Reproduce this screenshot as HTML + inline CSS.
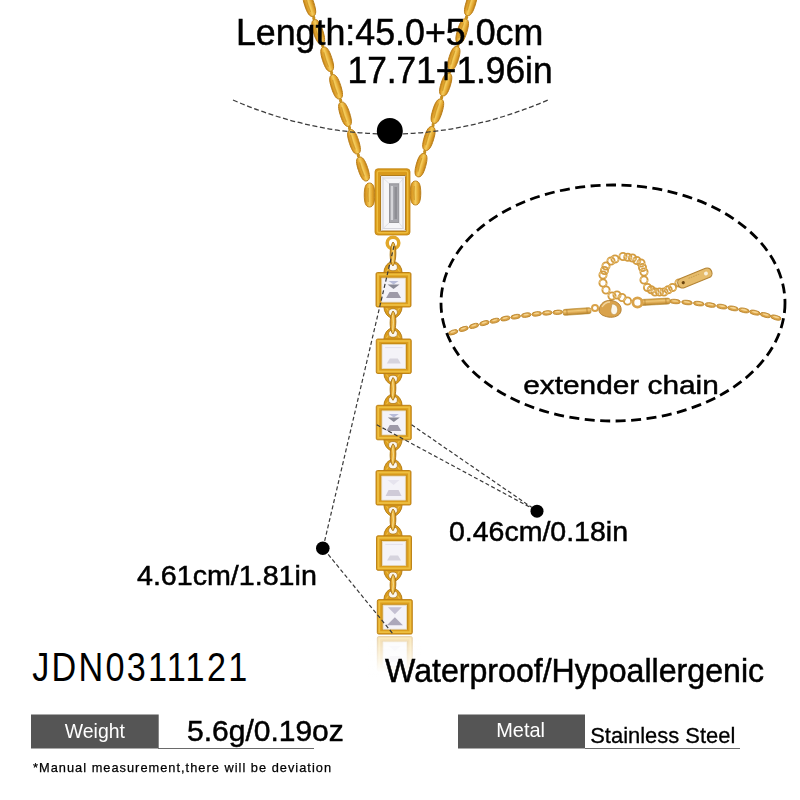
<!DOCTYPE html>
<html><head><meta charset="utf-8">
<style>
html,body{margin:0;padding:0;background:#fff;}
body{width:800px;height:800px;overflow:hidden;position:relative;}
svg{position:absolute;left:0;top:0;}
text{font-family:"Liberation Sans",sans-serif;}
.b{stroke:#000;stroke-width:0.5px;}
</style></head><body>
<svg width="800" height="800" viewBox="0 0 800 800">
<rect width="800" height="800" fill="#fff"/>
<g id="necklace"><defs>
<linearGradient id="gb" x1="0" y1="0" x2="1" y2="0">
<stop offset="0" stop-color="#c4841a"/><stop offset="0.25" stop-color="#e3a52e"/><stop offset="0.5" stop-color="#f4cc5c"/><stop offset="0.78" stop-color="#e0a22c"/><stop offset="1" stop-color="#bc7e16"/>
</linearGradient>
<linearGradient id="gs" x1="0" y1="0" x2="0" y2="1">
<stop offset="0" stop-color="#c89030"/><stop offset="0.35" stop-color="#f0c878"/><stop offset="0.65" stop-color="#dca850"/><stop offset="1" stop-color="#b07e28"/>
</linearGradient>
<linearGradient id="gf" x1="0" y1="0" x2="1" y2="1">
<stop offset="0" stop-color="#f4c550"/><stop offset="0.5" stop-color="#e6ac2c"/><stop offset="1" stop-color="#d0941e"/>
</linearGradient>
<linearGradient id="fade" x1="0" y1="0" x2="0" y2="1">
<stop offset="0" stop-color="#fff" stop-opacity="0.05"/><stop offset="0.75" stop-color="#fff" stop-opacity="0.95"/><stop offset="1" stop-color="#fff" stop-opacity="1"/>
</linearGradient>
<filter id="soft" x="-5%" y="-5%" width="110%" height="110%"><feGaussianBlur stdDeviation="0.4"/></filter>
</defs>
<g filter="url(#soft)"><g transform="translate(309.3,4.2) rotate(-18.0)"><path d="M0,-12.707946830809 C3.56,-12.71 4.75,-7.88 4.75,0 C4.75,7.88 3.56,12.71 0,12.707946830809 C-3.56,12.71 -4.75,7.88 -4.75,0 C-4.75,-7.88 -3.56,-12.71 0,-12.707946830809 Z" fill="url(#gb)" stroke="#b87c16" stroke-width="0.9"/><path d="M-1.2,-7.7 Q-2,0 -1.2,7.7" stroke="#c08a20" stroke-width="1.1" fill="none" opacity="0.6"/></g>
<g transform="translate(318.2,31.8) rotate(-18.0)"><path d="M0,-12.707946830809 C3.56,-12.71 4.75,-7.88 4.75,0 C4.75,7.88 3.56,12.71 0,12.707946830809 C-3.56,12.71 -4.75,7.88 -4.75,0 C-4.75,-7.88 -3.56,-12.71 0,-12.707946830809 Z" fill="url(#gb)" stroke="#b87c16" stroke-width="0.9"/><path d="M-1.2,-7.7 Q-2,0 -1.2,7.7" stroke="#c08a20" stroke-width="1.1" fill="none" opacity="0.6"/></g>
<g transform="translate(327.2,59.2) rotate(-18.0)"><path d="M0,-12.707946830809 C3.56,-12.71 4.75,-7.88 4.75,0 C4.75,7.88 3.56,12.71 0,12.707946830809 C-3.56,12.71 -4.75,7.88 -4.75,0 C-4.75,-7.88 -3.56,-12.71 0,-12.707946830809 Z" fill="url(#gb)" stroke="#b87c16" stroke-width="0.9"/><path d="M-1.2,-7.7 Q-2,0 -1.2,7.7" stroke="#c08a20" stroke-width="1.1" fill="none" opacity="0.6"/></g>
<g transform="translate(336.1,86.8) rotate(-18.0)"><path d="M0,-12.707946830809 C3.56,-12.71 4.75,-7.88 4.75,0 C4.75,7.88 3.56,12.71 0,12.707946830809 C-3.56,12.71 -4.75,7.88 -4.75,0 C-4.75,-7.88 -3.56,-12.71 0,-12.707946830809 Z" fill="url(#gb)" stroke="#b87c16" stroke-width="0.9"/><path d="M-1.2,-7.7 Q-2,0 -1.2,7.7" stroke="#c08a20" stroke-width="1.1" fill="none" opacity="0.6"/></g>
<g transform="translate(345.0,114.2) rotate(-18.0)"><path d="M0,-12.707946830809 C3.56,-12.71 4.75,-7.88 4.75,0 C4.75,7.88 3.56,12.71 0,12.707946830809 C-3.56,12.71 -4.75,7.88 -4.75,0 C-4.75,-7.88 -3.56,-12.71 0,-12.707946830809 Z" fill="url(#gb)" stroke="#b87c16" stroke-width="0.9"/><path d="M-1.2,-7.7 Q-2,0 -1.2,7.7" stroke="#c08a20" stroke-width="1.1" fill="none" opacity="0.6"/></g>
<g transform="translate(354.0,141.8) rotate(-18.0)"><path d="M0,-12.707946830809 C3.56,-12.71 4.75,-7.88 4.75,0 C4.75,7.88 3.56,12.71 0,12.707946830809 C-3.56,12.71 -4.75,7.88 -4.75,0 C-4.75,-7.88 -3.56,-12.71 0,-12.707946830809 Z" fill="url(#gb)" stroke="#b87c16" stroke-width="0.9"/><path d="M-1.2,-7.7 Q-2,0 -1.2,7.7" stroke="#c08a20" stroke-width="1.1" fill="none" opacity="0.6"/></g>
<g transform="translate(363.0,169.0) rotate(-18.7)"><path d="M0,-12.506151358711794 C3.56,-12.51 4.75,-7.75 4.75,0 C4.75,7.75 3.56,12.51 0,12.506151358711794 C-3.56,12.51 -4.75,7.75 -4.75,0 C-4.75,-7.75 -3.56,-12.51 0,-12.506151358711794 Z" fill="url(#gb)" stroke="#b87c16" stroke-width="0.9"/><path d="M-1.2,-7.5 Q-2,0 -1.2,7.5" stroke="#c08a20" stroke-width="1.1" fill="none" opacity="0.6"/></g>
<ellipse cx="313.8" cy="18.0" rx="1.6" ry="2.2" fill="#c8901e"/>
<ellipse cx="322.7" cy="45.5" rx="1.6" ry="2.2" fill="#c8901e"/>
<ellipse cx="331.6" cy="73.0" rx="1.6" ry="2.2" fill="#c8901e"/>
<ellipse cx="340.6" cy="100.5" rx="1.6" ry="2.2" fill="#c8901e"/>
<ellipse cx="349.5" cy="128.0" rx="1.6" ry="2.2" fill="#c8901e"/>
<ellipse cx="358.4" cy="155.5" rx="1.6" ry="2.2" fill="#c8901e"/>
<g transform="translate(470.7,3.6) rotate(17.2)"><path d="M0,-12.514665753620026 C3.56,-12.51 4.75,-7.76 4.75,0 C4.75,7.76 3.56,12.51 0,12.514665753620026 C-3.56,12.51 -4.75,7.76 -4.75,0 C-4.75,-7.76 -3.56,-12.51 0,-12.514665753620026 Z" fill="url(#gb)" stroke="#b87c16" stroke-width="0.9"/><path d="M-1.2,-7.5 Q-2,0 -1.2,7.5" stroke="#c08a20" stroke-width="1.1" fill="none" opacity="0.6"/></g>
<g transform="translate(462.2,31.1) rotate(17.2)"><path d="M0,-12.776402739924984 C3.56,-12.78 4.75,-7.92 4.75,0 C4.75,7.92 3.56,12.78 0,12.776402739924984 C-3.56,12.78 -4.75,7.92 -4.75,0 C-4.75,-7.92 -3.56,-12.78 0,-12.776402739924984 Z" fill="url(#gb)" stroke="#b87c16" stroke-width="0.9"/><path d="M-1.2,-7.8 Q-2,0 -1.2,7.8" stroke="#c08a20" stroke-width="1.1" fill="none" opacity="0.6"/></g>
<g transform="translate(453.8,58.2) rotate(17.2)"><path d="M0,-12.12206027416259 C3.56,-12.12 4.75,-7.52 4.75,0 C4.75,7.52 3.56,12.12 0,12.12206027416259 C-3.56,12.12 -4.75,7.52 -4.75,0 C-4.75,-7.52 -3.56,-12.12 0,-12.12206027416259 Z" fill="url(#gb)" stroke="#b87c16" stroke-width="0.9"/><path d="M-1.2,-7.1 Q-2,0 -1.2,7.1" stroke="#c08a20" stroke-width="1.1" fill="none" opacity="0.6"/></g>
<g transform="translate(445.7,84.5) rotate(17.2)"><path d="M0,-11.860323287857641 C3.56,-11.86 4.75,-7.35 4.75,0 C4.75,7.35 3.56,11.86 0,11.860323287857641 C-3.56,11.86 -4.75,7.35 -4.75,0 C-4.75,-7.35 -3.56,-11.86 0,-11.860323287857641 Z" fill="url(#gb)" stroke="#b87c16" stroke-width="0.9"/><path d="M-1.2,-6.9 Q-2,0 -1.2,6.9" stroke="#c08a20" stroke-width="1.1" fill="none" opacity="0.6"/></g>
<g transform="translate(437.4,111.2) rotate(17.2)"><path d="M0,-12.6455342467725 C3.56,-12.65 4.75,-7.84 4.75,0 C4.75,7.84 3.56,12.65 0,12.6455342467725 C-3.56,12.65 -4.75,7.84 -4.75,0 C-4.75,-7.84 -3.56,-12.65 0,-12.6455342467725 Z" fill="url(#gb)" stroke="#b87c16" stroke-width="0.9"/><path d="M-1.2,-7.6 Q-2,0 -1.2,7.6" stroke="#c08a20" stroke-width="1.1" fill="none" opacity="0.6"/></g>
<g transform="translate(428.9,138.5) rotate(17.2)"><path d="M0,-12.38379726046755 C3.56,-12.38 4.75,-7.68 4.75,0 C4.75,7.68 3.56,12.38 0,12.38379726046755 C-3.56,12.38 -4.75,7.68 -4.75,0 C-4.75,-7.68 -3.56,-12.38 0,-12.38379726046755 Z" fill="url(#gb)" stroke="#b87c16" stroke-width="0.9"/><path d="M-1.2,-7.4 Q-2,0 -1.2,7.4" stroke="#c08a20" stroke-width="1.1" fill="none" opacity="0.6"/></g>
<g transform="translate(421.0,165.2) rotate(15.9)"><path d="M0,-12.024190141801446 C3.56,-12.02 4.75,-7.45 4.75,0 C4.75,7.45 3.56,12.02 0,12.024190141801446 C-3.56,12.02 -4.75,7.45 -4.75,0 C-4.75,-7.45 -3.56,-12.02 0,-12.024190141801446 Z" fill="url(#gb)" stroke="#b87c16" stroke-width="0.9"/><path d="M-1.2,-7.0 Q-2,0 -1.2,7.0" stroke="#c08a20" stroke-width="1.1" fill="none" opacity="0.6"/></g>
<ellipse cx="466.5" cy="17.2" rx="1.6" ry="2.2" fill="#c8901e"/>
<ellipse cx="457.9" cy="45.0" rx="1.6" ry="2.2" fill="#c8901e"/>
<ellipse cx="449.7" cy="71.5" rx="1.6" ry="2.2" fill="#c8901e"/>
<ellipse cx="441.6" cy="97.5" rx="1.6" ry="2.2" fill="#c8901e"/>
<ellipse cx="433.1" cy="125.0" rx="1.6" ry="2.2" fill="#c8901e"/>
<ellipse cx="424.7" cy="152.0" rx="1.6" ry="2.2" fill="#c8901e"/>
<g transform="translate(369.5,195.0) rotate(0.0)"><path d="M0,-12.0 C3.94,-12.00 5.25,-7.44 5.25,0 C5.25,7.44 3.94,12.00 0,12.0 C-3.94,12.00 -5.25,7.44 -5.25,0 C-5.25,-7.44 -3.94,-12.00 0,-12.0 Z" fill="url(#gb)" stroke="#b87c16" stroke-width="0.9"/><path d="M-1.2,-7.0 Q-2,0 -1.2,7.0" stroke="#c08a20" stroke-width="1.1" fill="none" opacity="0.6"/></g>
<g transform="translate(415.5,193.0) rotate(0.0)"><path d="M0,-12.0 C3.94,-12.00 5.25,-7.44 5.25,0 C5.25,7.44 3.94,12.00 0,12.0 C-3.94,12.00 -5.25,7.44 -5.25,0 C-5.25,-7.44 -3.94,-12.00 0,-12.0 Z" fill="url(#gb)" stroke="#b87c16" stroke-width="0.9"/><path d="M-1.2,-7.0 Q-2,0 -1.2,7.0" stroke="#c08a20" stroke-width="1.1" fill="none" opacity="0.6"/></g>
<rect x="375" y="168.8" width="35" height="66.2" rx="3" fill="#d99a1a" stroke="#c08414" stroke-width="0.8"/>
<rect x="377.3" y="171.1" width="30.4" height="61.6" rx="2" fill="none" stroke="#eebc3c" stroke-width="1.4"/>
<rect x="380.6" y="175.6" width="25" height="55.4" fill="#f6f6f8" stroke="#a87010" stroke-width="0.9"/>
<path d="M383,178 H403 V228.5 H383 Z" fill="none" stroke="#d6d6dc" stroke-width="1.2"/>
<path d="M380.6,175.6 L389.4,183.8 M405.6,175.6 L398.8,183.8 M380.6,231 L389.4,222.5 M405.6,231 L398.8,222.5" stroke="#dcdce2" stroke-width="0.8"/>
<rect x="389.4" y="183.8" width="9.4" height="38.7" fill="#a6a6ac" stroke="#8a8a90" stroke-width="0.8"/>
<rect x="390.8" y="186" width="2.2" height="34" fill="#d4d4d8"/>
<rect x="394.5" y="187" width="2.5" height="32" fill="#8e8e94"/>
<circle cx="393" cy="243" r="5.8" fill="none" stroke="#e2a82a" stroke-width="3.5"/>
<ellipse cx="393" cy="273.5" rx="9.2" ry="12" fill="#dc9e1e" stroke="#b07610" stroke-width="0.9"/>
<path d="M386.5,271.5 Q393,260.5 399.5,271.5" fill="none" stroke="#f0c450" stroke-width="1.1" opacity="0.8"/>
<ellipse cx="393" cy="267.2" rx="4.4" ry="3.6" fill="#fbf7ee" stroke="#a87012" stroke-width="0.7"/>
<ellipse cx="393" cy="306.0" rx="9.2" ry="12" fill="#dc9e1e" stroke="#b07610" stroke-width="0.9"/>
<path d="M386.5,308.0 Q393,319.0 399.5,308.0" fill="none" stroke="#f0c450" stroke-width="1.1" opacity="0.8"/>
<ellipse cx="393" cy="312.3" rx="4.4" ry="3.6" fill="#fbf7ee" stroke="#a87012" stroke-width="0.7"/>
<ellipse cx="393" cy="340" rx="9.2" ry="12" fill="#dc9e1e" stroke="#b07610" stroke-width="0.9"/>
<path d="M386.5,338 Q393,327 399.5,338" fill="none" stroke="#f0c450" stroke-width="1.1" opacity="0.8"/>
<ellipse cx="393" cy="333.7" rx="4.4" ry="3.6" fill="#fbf7ee" stroke="#a87012" stroke-width="0.7"/>
<ellipse cx="393" cy="372.5" rx="9.2" ry="12" fill="#dc9e1e" stroke="#b07610" stroke-width="0.9"/>
<path d="M386.5,374.5 Q393,385.5 399.5,374.5" fill="none" stroke="#f0c450" stroke-width="1.1" opacity="0.8"/>
<ellipse cx="393" cy="378.8" rx="4.4" ry="3.6" fill="#fbf7ee" stroke="#a87012" stroke-width="0.7"/>
<ellipse cx="393" cy="406.3" rx="9.2" ry="12" fill="#dc9e1e" stroke="#b07610" stroke-width="0.9"/>
<path d="M386.5,404.3 Q393,393.3 399.5,404.3" fill="none" stroke="#f0c450" stroke-width="1.1" opacity="0.8"/>
<ellipse cx="393" cy="400.0" rx="4.4" ry="3.6" fill="#fbf7ee" stroke="#a87012" stroke-width="0.7"/>
<ellipse cx="393" cy="438.8" rx="9.2" ry="12" fill="#dc9e1e" stroke="#b07610" stroke-width="0.9"/>
<path d="M386.5,440.8 Q393,451.8 399.5,440.8" fill="none" stroke="#f0c450" stroke-width="1.1" opacity="0.8"/>
<ellipse cx="393" cy="445.1" rx="4.4" ry="3.6" fill="#fbf7ee" stroke="#a87012" stroke-width="0.7"/>
<ellipse cx="393" cy="471.5" rx="9.2" ry="12" fill="#dc9e1e" stroke="#b07610" stroke-width="0.9"/>
<path d="M386.5,469.5 Q393,458.5 399.5,469.5" fill="none" stroke="#f0c450" stroke-width="1.1" opacity="0.8"/>
<ellipse cx="393" cy="465.2" rx="4.4" ry="3.6" fill="#fbf7ee" stroke="#a87012" stroke-width="0.7"/>
<ellipse cx="393" cy="504.0" rx="9.2" ry="12" fill="#dc9e1e" stroke="#b07610" stroke-width="0.9"/>
<path d="M386.5,506.0 Q393,517.0 399.5,506.0" fill="none" stroke="#f0c450" stroke-width="1.1" opacity="0.8"/>
<ellipse cx="393" cy="510.3" rx="4.4" ry="3.6" fill="#fbf7ee" stroke="#a87012" stroke-width="0.7"/>
<ellipse cx="393" cy="536.8" rx="9.2" ry="12" fill="#dc9e1e" stroke="#b07610" stroke-width="0.9"/>
<path d="M386.5,534.8 Q393,523.8 399.5,534.8" fill="none" stroke="#f0c450" stroke-width="1.1" opacity="0.8"/>
<ellipse cx="393" cy="530.5" rx="4.4" ry="3.6" fill="#fbf7ee" stroke="#a87012" stroke-width="0.7"/>
<ellipse cx="393" cy="569.3" rx="9.2" ry="12" fill="#dc9e1e" stroke="#b07610" stroke-width="0.9"/>
<path d="M386.5,571.3 Q393,582.3 399.5,571.3" fill="none" stroke="#f0c450" stroke-width="1.1" opacity="0.8"/>
<ellipse cx="393" cy="575.5999999999999" rx="4.4" ry="3.6" fill="#fbf7ee" stroke="#a87012" stroke-width="0.7"/>
<ellipse cx="393" cy="600.6" rx="9.2" ry="12" fill="#dc9e1e" stroke="#b07610" stroke-width="0.9"/>
<path d="M386.5,598.6 Q393,587.6 399.5,598.6" fill="none" stroke="#f0c450" stroke-width="1.1" opacity="0.8"/>
<ellipse cx="393" cy="594.3000000000001" rx="4.4" ry="3.6" fill="#fbf7ee" stroke="#a87012" stroke-width="0.7"/>
<g opacity="0.38">
<rect x="377.3" y="636.5" width="35" height="34.5" rx="1.5" fill="#dc9e1c" stroke="#b87c12" stroke-width="0.9"/>
<rect x="379.3" y="638.5" width="31" height="30.5" fill="none" stroke="#f0c244" stroke-width="1.8" opacity="0.9"/>
<rect x="382.2" y="641.2" width="25.2" height="25.1" fill="none" stroke="#b88018" stroke-width="0.6"/>
<rect x="383.1" y="642" width="23.5" height="24" fill="#f4f3f8"/>
<path d="M389.85,656 L399.85,656 L402.85,662 L386.85,662 Z" fill="#cfcbd8"/>
<path d="M388.85,646 L400.85,646 L394.85,651 Z" fill="#e6e4ee"/>
<rect x="383.1" y="642" width="23.5" height="24" fill="none" stroke="#e8dcc0" stroke-width="0.8"/>
</g>
<rect x="368" y="636" width="54" height="46" fill="url(#fade)"/>
<rect x="376" y="272.5" width="35" height="34.5" rx="1.5" fill="#dc9e1c" stroke="#b87c12" stroke-width="0.9"/>
<rect x="378" y="274.5" width="31" height="30.5" fill="none" stroke="#f0c244" stroke-width="1.8" opacity="0.9"/>
<rect x="380.9" y="277.2" width="25.2" height="25.1" fill="none" stroke="#b88018" stroke-width="0.6"/>
<rect x="381.8" y="278.1" width="23.5" height="24" fill="#f4f3f8"/>
<path d="M388.55,281.1 L398.55,281.1 L393.55,284.6 Z" fill="#b8bcd8"/>
<path d="M387.55,284.6 L399.55,284.6 L393.55,289.1 Z" fill="#8a8a96"/>
<path d="M389.55,292.1 L397.55,292.1 L401.05,298.1 L386.05,298.1 Z" fill="#9e9aa8"/>
<rect x="381.8" y="278.1" width="23.5" height="24" fill="none" stroke="#e8dcc0" stroke-width="0.8"/>
<rect x="376.25" y="339" width="35" height="34.5" rx="1.5" fill="#dc9e1c" stroke="#b87c12" stroke-width="0.9"/>
<rect x="378.25" y="341" width="31" height="30.5" fill="none" stroke="#f0c244" stroke-width="1.8" opacity="0.9"/>
<rect x="381.15" y="343.7" width="25.2" height="25.1" fill="none" stroke="#b88018" stroke-width="0.6"/>
<rect x="382.05" y="344.6" width="23.5" height="24" fill="#f4f3f8"/>
<path d="M389.8,358.6 L397.8,358.6 L400.8,363.6 L386.8,363.6 Z" fill="#d6d4de"/>
<path d="M385.05,347.6 L402.55,347.6" stroke="#e2e0ea" stroke-width="1"/>
<rect x="382.05" y="344.6" width="23.5" height="24" fill="none" stroke="#e8dcc0" stroke-width="0.8"/>
<rect x="376.25" y="405.3" width="35" height="34.5" rx="1.5" fill="#dc9e1c" stroke="#b87c12" stroke-width="0.9"/>
<rect x="378.25" y="407.3" width="31" height="30.5" fill="none" stroke="#f0c244" stroke-width="1.8" opacity="0.9"/>
<rect x="381.15" y="410.0" width="25.2" height="25.1" fill="none" stroke="#b88018" stroke-width="0.6"/>
<rect x="382.05" y="410.90000000000003" width="23.5" height="24" fill="#f4f3f8"/>
<path d="M388.8,413.90000000000003 L398.8,413.90000000000003 L393.8,417.40000000000003 Z" fill="#b8bcd8"/>
<path d="M387.8,417.40000000000003 L399.8,417.40000000000003 L393.8,421.90000000000003 Z" fill="#8a8a96"/>
<path d="M389.8,424.90000000000003 L397.8,424.90000000000003 L401.3,430.90000000000003 L386.3,430.90000000000003 Z" fill="#9e9aa8"/>
<rect x="382.05" y="410.90000000000003" width="23.5" height="24" fill="none" stroke="#e8dcc0" stroke-width="0.8"/>
<rect x="376" y="470.5" width="35" height="34.5" rx="1.5" fill="#dc9e1c" stroke="#b87c12" stroke-width="0.9"/>
<rect x="378" y="472.5" width="31" height="30.5" fill="none" stroke="#f0c244" stroke-width="1.8" opacity="0.9"/>
<rect x="380.9" y="475.2" width="25.2" height="25.1" fill="none" stroke="#b88018" stroke-width="0.6"/>
<rect x="381.8" y="476.1" width="23.5" height="24" fill="#f4f3f8"/>
<path d="M388.55,490.1 L398.55,490.1 L401.55,496.1 L385.55,496.1 Z" fill="#cfcbd8"/>
<path d="M387.55,480.1 L399.55,480.1 L393.55,485.1 Z" fill="#e6e4ee"/>
<rect x="381.8" y="476.1" width="23.5" height="24" fill="none" stroke="#e8dcc0" stroke-width="0.8"/>
<rect x="376.5" y="535.8" width="35" height="34.5" rx="1.5" fill="#dc9e1c" stroke="#b87c12" stroke-width="0.9"/>
<rect x="378.5" y="537.8" width="31" height="30.5" fill="none" stroke="#f0c244" stroke-width="1.8" opacity="0.9"/>
<rect x="381.4" y="540.5" width="25.2" height="25.1" fill="none" stroke="#b88018" stroke-width="0.6"/>
<rect x="382.3" y="541.4" width="23.5" height="24" fill="#f4f3f8"/>
<path d="M390.05,555.4 L398.05,555.4 L401.05,560.4 L387.05,560.4 Z" fill="#d6d4de"/>
<path d="M385.3,544.4 L402.8,544.4" stroke="#e2e0ea" stroke-width="1"/>
<rect x="382.3" y="541.4" width="23.5" height="24" fill="none" stroke="#e8dcc0" stroke-width="0.8"/>
<rect x="377.3" y="599.6" width="35" height="34.5" rx="1.5" fill="#dc9e1c" stroke="#b87c12" stroke-width="0.9"/>
<rect x="379.3" y="601.6" width="31" height="30.5" fill="none" stroke="#f0c244" stroke-width="1.8" opacity="0.9"/>
<rect x="382.2" y="604.3000000000001" width="25.2" height="25.1" fill="none" stroke="#b88018" stroke-width="0.6"/>
<rect x="383.1" y="605.2" width="23.5" height="24" fill="#f4f3f8"/>
<path d="M387.85,607.2 L401.85,607.2 L394.85,614.2 Z" fill="#c4c0d2"/>
<path d="M394.85,617.2 L402.85,625.2 L386.85,625.2 Z" fill="#aca8ba"/>
<rect x="383.1" y="605.2" width="23.5" height="24" fill="none" stroke="#e8dcc0" stroke-width="0.8"/>
<path d="M393,242 C396.9,245 396.7,261 393,266 C389.3,263 389.1,247 393,242 Z" fill="url(#gb)" stroke="#a87214" stroke-width="0.9"/>
<path d="M392.5,246 Q394.5,254.0 392.5,262" stroke="#fae6a8" stroke-width="1" fill="none" opacity="0.7"/>
<path d="M393,311.0 C396.9,314.0 396.7,329 393,334 C389.3,331 389.1,316.0 393,311.0 Z" fill="url(#gb)" stroke="#a87214" stroke-width="0.9"/>
<path d="M392.5,315.0 Q394.5,322.5 392.5,330" stroke="#fae6a8" stroke-width="1" fill="none" opacity="0.7"/>
<path d="M393,377.5 C396.9,380.5 396.7,395.3 393,400.3 C389.3,397.3 389.1,382.5 393,377.5 Z" fill="url(#gb)" stroke="#a87214" stroke-width="0.9"/>
<path d="M392.5,381.5 Q394.5,388.9 392.5,396.3" stroke="#fae6a8" stroke-width="1" fill="none" opacity="0.7"/>
<path d="M393,443.8 C396.9,446.8 396.7,460.5 393,465.5 C389.3,462.5 389.1,448.8 393,443.8 Z" fill="url(#gb)" stroke="#a87214" stroke-width="0.9"/>
<path d="M392.5,447.8 Q394.5,454.6 392.5,461.5" stroke="#fae6a8" stroke-width="1" fill="none" opacity="0.7"/>
<path d="M393,509.0 C396.9,512.0 396.7,525.8 393,530.8 C389.3,527.8 389.1,514.0 393,509.0 Z" fill="url(#gb)" stroke="#a87214" stroke-width="0.9"/>
<path d="M392.5,513.0 Q394.5,519.9 392.5,526.8" stroke="#fae6a8" stroke-width="1" fill="none" opacity="0.7"/>
<path d="M393,574.3 C396.9,577.3 396.7,589.6 393,594.6 C389.3,591.6 389.1,579.3 393,574.3 Z" fill="url(#gb)" stroke="#a87214" stroke-width="0.9"/>
<path d="M392.5,578.3 Q394.5,584.5 392.5,590.6" stroke="#fae6a8" stroke-width="1" fill="none" opacity="0.7"/>
<ellipse cx="453.2" cy="332.3" rx="4.85" ry="2.2" transform="rotate(-18.6 453.2 332.3)" fill="#dca54a" stroke="#b88228" stroke-width="0.8"/>
<ellipse cx="453.2" cy="331.8" rx="2.75" ry="0.8" transform="rotate(-18.6 453.2 332.3)" fill="#f4d490"/>
<ellipse cx="463.6" cy="328.9" rx="4.85" ry="2.2" transform="rotate(-17.1 463.6 328.9)" fill="#dca54a" stroke="#b88228" stroke-width="0.8"/>
<ellipse cx="463.6" cy="328.4" rx="2.75" ry="0.8" transform="rotate(-17.1 463.6 328.9)" fill="#f4d490"/>
<ellipse cx="474.0" cy="325.9" rx="4.85" ry="2.2" transform="rotate(-15.5 474.0 325.9)" fill="#dca54a" stroke="#b88228" stroke-width="0.8"/>
<ellipse cx="474.0" cy="325.4" rx="2.75" ry="0.8" transform="rotate(-15.5 474.0 325.9)" fill="#f4d490"/>
<ellipse cx="484.4" cy="323.1" rx="4.85" ry="2.2" transform="rotate(-14.0 484.4 323.1)" fill="#dca54a" stroke="#b88228" stroke-width="0.8"/>
<ellipse cx="484.4" cy="322.6" rx="2.75" ry="0.8" transform="rotate(-14.0 484.4 323.1)" fill="#f4d490"/>
<ellipse cx="494.8" cy="320.7" rx="4.85" ry="2.2" transform="rotate(-12.4 494.8 320.7)" fill="#dca54a" stroke="#b88228" stroke-width="0.8"/>
<ellipse cx="494.8" cy="320.2" rx="2.75" ry="0.8" transform="rotate(-12.4 494.8 320.7)" fill="#f4d490"/>
<ellipse cx="505.3" cy="318.5" rx="4.85" ry="2.2" transform="rotate(-10.8 505.3 318.5)" fill="#dca54a" stroke="#b88228" stroke-width="0.8"/>
<ellipse cx="505.3" cy="318.0" rx="2.75" ry="0.8" transform="rotate(-10.8 505.3 318.5)" fill="#f4d490"/>
<ellipse cx="515.7" cy="316.7" rx="4.85" ry="2.2" transform="rotate(-9.2 515.7 316.7)" fill="#dca54a" stroke="#b88228" stroke-width="0.8"/>
<ellipse cx="515.7" cy="316.2" rx="2.75" ry="0.8" transform="rotate(-9.2 515.7 316.7)" fill="#f4d490"/>
<ellipse cx="526.2" cy="315.1" rx="4.85" ry="2.2" transform="rotate(-7.6 526.2 315.1)" fill="#dca54a" stroke="#b88228" stroke-width="0.8"/>
<ellipse cx="526.2" cy="314.6" rx="2.75" ry="0.8" transform="rotate(-7.6 526.2 315.1)" fill="#f4d490"/>
<ellipse cx="536.7" cy="313.9" rx="4.85" ry="2.2" transform="rotate(-6.0 536.7 313.9)" fill="#dca54a" stroke="#b88228" stroke-width="0.8"/>
<ellipse cx="536.7" cy="313.4" rx="2.75" ry="0.8" transform="rotate(-6.0 536.7 313.9)" fill="#f4d490"/>
<ellipse cx="547.2" cy="312.9" rx="4.85" ry="2.2" transform="rotate(-4.4 547.2 312.9)" fill="#dca54a" stroke="#b88228" stroke-width="0.8"/>
<ellipse cx="547.2" cy="312.4" rx="2.75" ry="0.8" transform="rotate(-4.4 547.2 312.9)" fill="#f4d490"/>
<ellipse cx="557.7" cy="312.3" rx="4.85" ry="2.2" transform="rotate(-2.8 557.7 312.3)" fill="#dca54a" stroke="#b88228" stroke-width="0.8"/>
<ellipse cx="557.7" cy="311.8" rx="2.75" ry="0.8" transform="rotate(-2.8 557.7 312.3)" fill="#f4d490"/>
<ellipse cx="675.0" cy="301.5" rx="5.35" ry="2.2" transform="rotate(4.3 675.0 301.5)" fill="#dca54a" stroke="#b88228" stroke-width="0.8"/>
<ellipse cx="675.0" cy="301.0" rx="3.25" ry="0.8" transform="rotate(4.3 675.0 301.5)" fill="#f4d490"/>
<ellipse cx="687.0" cy="302.5" rx="5.35" ry="2.2" transform="rotate(5.3 687.0 302.5)" fill="#dca54a" stroke="#b88228" stroke-width="0.8"/>
<ellipse cx="687.0" cy="302.0" rx="3.25" ry="0.8" transform="rotate(5.3 687.0 302.5)" fill="#f4d490"/>
<ellipse cx="698.8" cy="303.6" rx="5.35" ry="2.2" transform="rotate(6.3 698.8 303.6)" fill="#dca54a" stroke="#b88228" stroke-width="0.8"/>
<ellipse cx="698.8" cy="303.1" rx="3.25" ry="0.8" transform="rotate(6.3 698.8 303.6)" fill="#f4d490"/>
<ellipse cx="710.4" cy="305.0" rx="5.35" ry="2.2" transform="rotate(7.4 710.4 305.0)" fill="#dca54a" stroke="#b88228" stroke-width="0.8"/>
<ellipse cx="710.4" cy="304.5" rx="3.25" ry="0.8" transform="rotate(7.4 710.4 305.0)" fill="#f4d490"/>
<ellipse cx="721.9" cy="306.6" rx="5.35" ry="2.2" transform="rotate(8.6 721.9 306.6)" fill="#dca54a" stroke="#b88228" stroke-width="0.8"/>
<ellipse cx="721.9" cy="306.1" rx="3.25" ry="0.8" transform="rotate(8.6 721.9 306.6)" fill="#f4d490"/>
<ellipse cx="733.0" cy="308.4" rx="5.35" ry="2.2" transform="rotate(9.7 733.0 308.4)" fill="#dca54a" stroke="#b88228" stroke-width="0.8"/>
<ellipse cx="733.0" cy="307.9" rx="3.25" ry="0.8" transform="rotate(9.7 733.0 308.4)" fill="#f4d490"/>
<ellipse cx="744.0" cy="310.4" rx="5.35" ry="2.2" transform="rotate(10.9 744.0 310.4)" fill="#dca54a" stroke="#b88228" stroke-width="0.8"/>
<ellipse cx="744.0" cy="309.9" rx="3.25" ry="0.8" transform="rotate(10.9 744.0 310.4)" fill="#f4d490"/>
<ellipse cx="754.9" cy="312.6" rx="5.35" ry="2.2" transform="rotate(12.1 754.9 312.6)" fill="#dca54a" stroke="#b88228" stroke-width="0.8"/>
<ellipse cx="754.9" cy="312.1" rx="3.25" ry="0.8" transform="rotate(12.1 754.9 312.6)" fill="#f4d490"/>
<ellipse cx="765.5" cy="315.1" rx="5.35" ry="2.2" transform="rotate(13.4 765.5 315.1)" fill="#dca54a" stroke="#b88228" stroke-width="0.8"/>
<ellipse cx="765.5" cy="314.6" rx="3.25" ry="0.8" transform="rotate(13.4 765.5 315.1)" fill="#f4d490"/>
<ellipse cx="775.9" cy="317.6" rx="5.35" ry="2.2" transform="rotate(14.7 775.9 317.6)" fill="#dca54a" stroke="#b88228" stroke-width="0.8"/>
<ellipse cx="775.9" cy="317.1" rx="3.25" ry="0.8" transform="rotate(14.7 775.9 317.6)" fill="#f4d490"/>
<g transform="translate(563,312.5) rotate(-4.1)"><rect x="0" y="-3.0" width="28.1" height="6" rx="2" fill="url(#gs)" stroke="#b88a30" stroke-width="0.6"/><path d="M4,-3.0 V3.0 M24.1,-3.0 V3.0" stroke="#b88430" stroke-width="0.8"/></g>
<g transform="translate(641,302.5) rotate(-3.0)"><rect x="0" y="-3.0" width="29.0" height="6" rx="2" fill="url(#gs)" stroke="#b88a30" stroke-width="0.6"/><path d="M4,-3.0 V3.0 M25.0,-3.0 V3.0" stroke="#b88430" stroke-width="0.8"/></g>
<circle cx="627.5" cy="301.0" r="3.6" fill="none" stroke="#d39c40" stroke-width="1.9"/>
<circle cx="622.0" cy="297.5" r="3.6" fill="none" stroke="#d39c40" stroke-width="1.9"/>
<circle cx="617.0" cy="295.0" r="3.6" fill="none" stroke="#d39c40" stroke-width="1.9"/>
<circle cx="612.0" cy="296.0" r="3.6" fill="none" stroke="#d39c40" stroke-width="1.9"/>
<circle cx="606.0" cy="290.0" r="3.6" fill="none" stroke="#d39c40" stroke-width="1.9"/>
<circle cx="603.0" cy="283.0" r="3.6" fill="none" stroke="#d39c40" stroke-width="1.9"/>
<circle cx="603.0" cy="275.0" r="3.6" fill="none" stroke="#d39c40" stroke-width="1.9"/>
<circle cx="604.5" cy="270.5" r="3.6" fill="none" stroke="#d39c40" stroke-width="1.9"/>
<circle cx="606.0" cy="266.0" r="3.6" fill="none" stroke="#d39c40" stroke-width="1.9"/>
<circle cx="611.0" cy="261.0" r="3.6" fill="none" stroke="#d39c40" stroke-width="1.9"/>
<circle cx="615.0" cy="259.0" r="3.6" fill="none" stroke="#d39c40" stroke-width="1.9"/>
<circle cx="623.0" cy="256.5" r="3.6" fill="none" stroke="#d39c40" stroke-width="1.9"/>
<circle cx="627.8" cy="257.2" r="3.6" fill="none" stroke="#d39c40" stroke-width="1.9"/>
<circle cx="632.5" cy="258.0" r="3.6" fill="none" stroke="#d39c40" stroke-width="1.9"/>
<circle cx="636.8" cy="260.5" r="3.6" fill="none" stroke="#d39c40" stroke-width="1.9"/>
<circle cx="641.0" cy="263.0" r="3.6" fill="none" stroke="#d39c40" stroke-width="1.9"/>
<circle cx="642.5" cy="267.5" r="3.6" fill="none" stroke="#d39c40" stroke-width="1.9"/>
<circle cx="644.0" cy="272.0" r="3.6" fill="none" stroke="#d39c40" stroke-width="1.9"/>
<circle cx="644.0" cy="280.0" r="3.6" fill="none" stroke="#d39c40" stroke-width="1.9"/>
<circle cx="647.5" cy="287.5" r="3.6" fill="none" stroke="#d39c40" stroke-width="1.9"/>
<circle cx="651.2" cy="289.8" r="3.6" fill="none" stroke="#d39c40" stroke-width="1.9"/>
<circle cx="655.0" cy="292.0" r="3.6" fill="none" stroke="#d39c40" stroke-width="1.9"/>
<circle cx="659.5" cy="292.0" r="3.6" fill="none" stroke="#d39c40" stroke-width="1.9"/>
<circle cx="664.0" cy="292.0" r="3.6" fill="none" stroke="#d39c40" stroke-width="1.9"/>
<circle cx="668.2" cy="289.8" r="3.6" fill="none" stroke="#d39c40" stroke-width="1.9"/>
<circle cx="672.5" cy="287.5" r="3.6" fill="none" stroke="#d39c40" stroke-width="1.9"/>
<circle cx="679.0" cy="283.0" r="3.6" fill="none" stroke="#d39c40" stroke-width="1.9"/>
<circle cx="627.5" cy="301.0" r="3.6" fill="none" stroke="#f0cc80" stroke-width="0.8" stroke-dasharray="3,8"/>
<circle cx="622.0" cy="297.5" r="3.6" fill="none" stroke="#f0cc80" stroke-width="0.8" stroke-dasharray="3,8"/>
<circle cx="617.0" cy="295.0" r="3.6" fill="none" stroke="#f0cc80" stroke-width="0.8" stroke-dasharray="3,8"/>
<circle cx="612.0" cy="296.0" r="3.6" fill="none" stroke="#f0cc80" stroke-width="0.8" stroke-dasharray="3,8"/>
<circle cx="606.0" cy="290.0" r="3.6" fill="none" stroke="#f0cc80" stroke-width="0.8" stroke-dasharray="3,8"/>
<circle cx="603.0" cy="283.0" r="3.6" fill="none" stroke="#f0cc80" stroke-width="0.8" stroke-dasharray="3,8"/>
<circle cx="603.0" cy="275.0" r="3.6" fill="none" stroke="#f0cc80" stroke-width="0.8" stroke-dasharray="3,8"/>
<circle cx="604.5" cy="270.5" r="3.6" fill="none" stroke="#f0cc80" stroke-width="0.8" stroke-dasharray="3,8"/>
<circle cx="606.0" cy="266.0" r="3.6" fill="none" stroke="#f0cc80" stroke-width="0.8" stroke-dasharray="3,8"/>
<circle cx="611.0" cy="261.0" r="3.6" fill="none" stroke="#f0cc80" stroke-width="0.8" stroke-dasharray="3,8"/>
<circle cx="615.0" cy="259.0" r="3.6" fill="none" stroke="#f0cc80" stroke-width="0.8" stroke-dasharray="3,8"/>
<circle cx="623.0" cy="256.5" r="3.6" fill="none" stroke="#f0cc80" stroke-width="0.8" stroke-dasharray="3,8"/>
<circle cx="627.8" cy="257.2" r="3.6" fill="none" stroke="#f0cc80" stroke-width="0.8" stroke-dasharray="3,8"/>
<circle cx="632.5" cy="258.0" r="3.6" fill="none" stroke="#f0cc80" stroke-width="0.8" stroke-dasharray="3,8"/>
<circle cx="636.8" cy="260.5" r="3.6" fill="none" stroke="#f0cc80" stroke-width="0.8" stroke-dasharray="3,8"/>
<circle cx="641.0" cy="263.0" r="3.6" fill="none" stroke="#f0cc80" stroke-width="0.8" stroke-dasharray="3,8"/>
<circle cx="642.5" cy="267.5" r="3.6" fill="none" stroke="#f0cc80" stroke-width="0.8" stroke-dasharray="3,8"/>
<circle cx="644.0" cy="272.0" r="3.6" fill="none" stroke="#f0cc80" stroke-width="0.8" stroke-dasharray="3,8"/>
<circle cx="644.0" cy="280.0" r="3.6" fill="none" stroke="#f0cc80" stroke-width="0.8" stroke-dasharray="3,8"/>
<circle cx="647.5" cy="287.5" r="3.6" fill="none" stroke="#f0cc80" stroke-width="0.8" stroke-dasharray="3,8"/>
<circle cx="651.2" cy="289.8" r="3.6" fill="none" stroke="#f0cc80" stroke-width="0.8" stroke-dasharray="3,8"/>
<circle cx="655.0" cy="292.0" r="3.6" fill="none" stroke="#f0cc80" stroke-width="0.8" stroke-dasharray="3,8"/>
<circle cx="659.5" cy="292.0" r="3.6" fill="none" stroke="#f0cc80" stroke-width="0.8" stroke-dasharray="3,8"/>
<circle cx="664.0" cy="292.0" r="3.6" fill="none" stroke="#f0cc80" stroke-width="0.8" stroke-dasharray="3,8"/>
<circle cx="668.2" cy="289.8" r="3.6" fill="none" stroke="#f0cc80" stroke-width="0.8" stroke-dasharray="3,8"/>
<circle cx="672.5" cy="287.5" r="3.6" fill="none" stroke="#f0cc80" stroke-width="0.8" stroke-dasharray="3,8"/>
<circle cx="679.0" cy="283.0" r="3.6" fill="none" stroke="#f0cc80" stroke-width="0.8" stroke-dasharray="3,8"/>
<circle cx="637.5" cy="302.5" r="4.6" fill="none" stroke="#d9a24a" stroke-width="2.8"/>
<circle cx="595" cy="308" r="3.0" fill="none" stroke="#d9a24a" stroke-width="2.0"/>
<path d="M599,310 C600,303 605,300 611,300.5 C618,301 622,306 621,311 C620,316 614,318 608,317 C603,316 599,314 599,310 Z" fill="#d9a24c" stroke="#b07c2a" stroke-width="0.9"/>
<path d="M612,304 C618,304 619,311 616,314 C613,316 610,313 611,309 Z" fill="#fbf6ea" stroke="#c09040" stroke-width="0.6"/>
<path d="M602,307 Q605,302 610,302" stroke="#f2d49a" stroke-width="1.3" fill="none"/>
<g transform="translate(680,284) rotate(-22)"><rect x="-2" y="-5" width="36" height="10" rx="4.5" fill="#e6bc6c" stroke="#b48434" stroke-width="1.1"/><circle cx="3.5" cy="0" r="1.6" fill="#6a4410"/><circle cx="28" cy="0" r="2" fill="#f8f0dc"/><path d="M10,-2 H22" stroke="#caa050" stroke-width="1" stroke-dasharray="1.5,1"/></g></g></g>
<!-- top arc -->
<path d="M233,100 Q390,168 548,100" fill="none" stroke="#3c3c3c" stroke-width="1.25" stroke-dasharray="5,2.6"/>
<circle cx="389.8" cy="131" r="13" fill="#000"/>
<!-- ellipse -->
<ellipse cx="613" cy="303" rx="172" ry="118" fill="none" stroke="#000" stroke-width="2.8" stroke-dasharray="10,5.5"/>
<!-- measure lines -->
<path d="M411.6,424.8 L537,511 M376.8,424.8 L537,511" stroke="#3a3a3a" stroke-width="1.2" stroke-dasharray="4,2.5" fill="none"/>
<circle cx="537" cy="511.2" r="6.5" fill="#000"/>
<path d="M394,246 L323,548 L393.3,634.3" stroke="#3a3a3a" stroke-width="1.2" stroke-dasharray="4,2.5" fill="none"/>
<circle cx="322.8" cy="548.3" r="6.8" fill="#000"/>
<!-- texts -->
<text class="b" x="235.9" y="44.8" font-size="36" textLength="307.4" lengthAdjust="spacingAndGlyphs">Length:45.0+5.0cm</text>
<text class="b" x="347.5" y="83" font-size="36" textLength="205.1" lengthAdjust="spacingAndGlyphs">17.71+1.96in</text>
<text x="523.3" y="394.4" font-size="25" textLength="195.5" lengthAdjust="spacingAndGlyphs" stroke="#000" stroke-width="0.45">extender chain</text>
<text class="b" x="449.0" y="540.8" font-size="27" textLength="179.0" lengthAdjust="spacingAndGlyphs">0.46cm/0.18in</text>
<text class="b" x="137.0" y="584.5" font-size="27" textLength="179.8" lengthAdjust="spacingAndGlyphs">4.61cm/1.81in</text>
<text transform="translate(32.2,681.4) scale(1,1.19)" x="0" y="0" font-size="34.2" textLength="215" lengthAdjust="spacing">JDN0311121</text>
<text class="b" x="385.0" y="682" font-size="32.7" textLength="379.1" lengthAdjust="spacingAndGlyphs">Waterproof/Hypoallergenic</text>
<rect x="31" y="714.5" width="127.7" height="34" fill="#555"/>
<line x1="158" y1="748.5" x2="314" y2="748.5" stroke="#6a6a6a" stroke-width="1"/>
<text x="64.8" y="737.6" font-size="19.8" fill="#fff" textLength="60.2" lengthAdjust="spacingAndGlyphs">Weight</text>
<text class="b" x="187.0" y="740.5" font-size="29.4" textLength="156.8" lengthAdjust="spacingAndGlyphs">5.6g/0.19oz</text>
<rect x="458" y="714.5" width="127" height="34" fill="#555"/>
<line x1="585" y1="748.5" x2="740" y2="748.5" stroke="#6a6a6a" stroke-width="1"/>
<text x="496.2" y="737.4" font-size="20.3" fill="#fff" textLength="48.8" lengthAdjust="spacingAndGlyphs">Metal</text>
<text x="590.2" y="743.3" font-size="22.2" textLength="145.2" lengthAdjust="spacingAndGlyphs" stroke="#000" stroke-width="0.3">Stainless Steel</text>
<text x="33.0" y="772" font-size="12.8" textLength="298.0" lengthAdjust="spacing" stroke="#000" stroke-width="0.25">*Manual measurement,there will be deviation</text>
</svg>
</body></html>
